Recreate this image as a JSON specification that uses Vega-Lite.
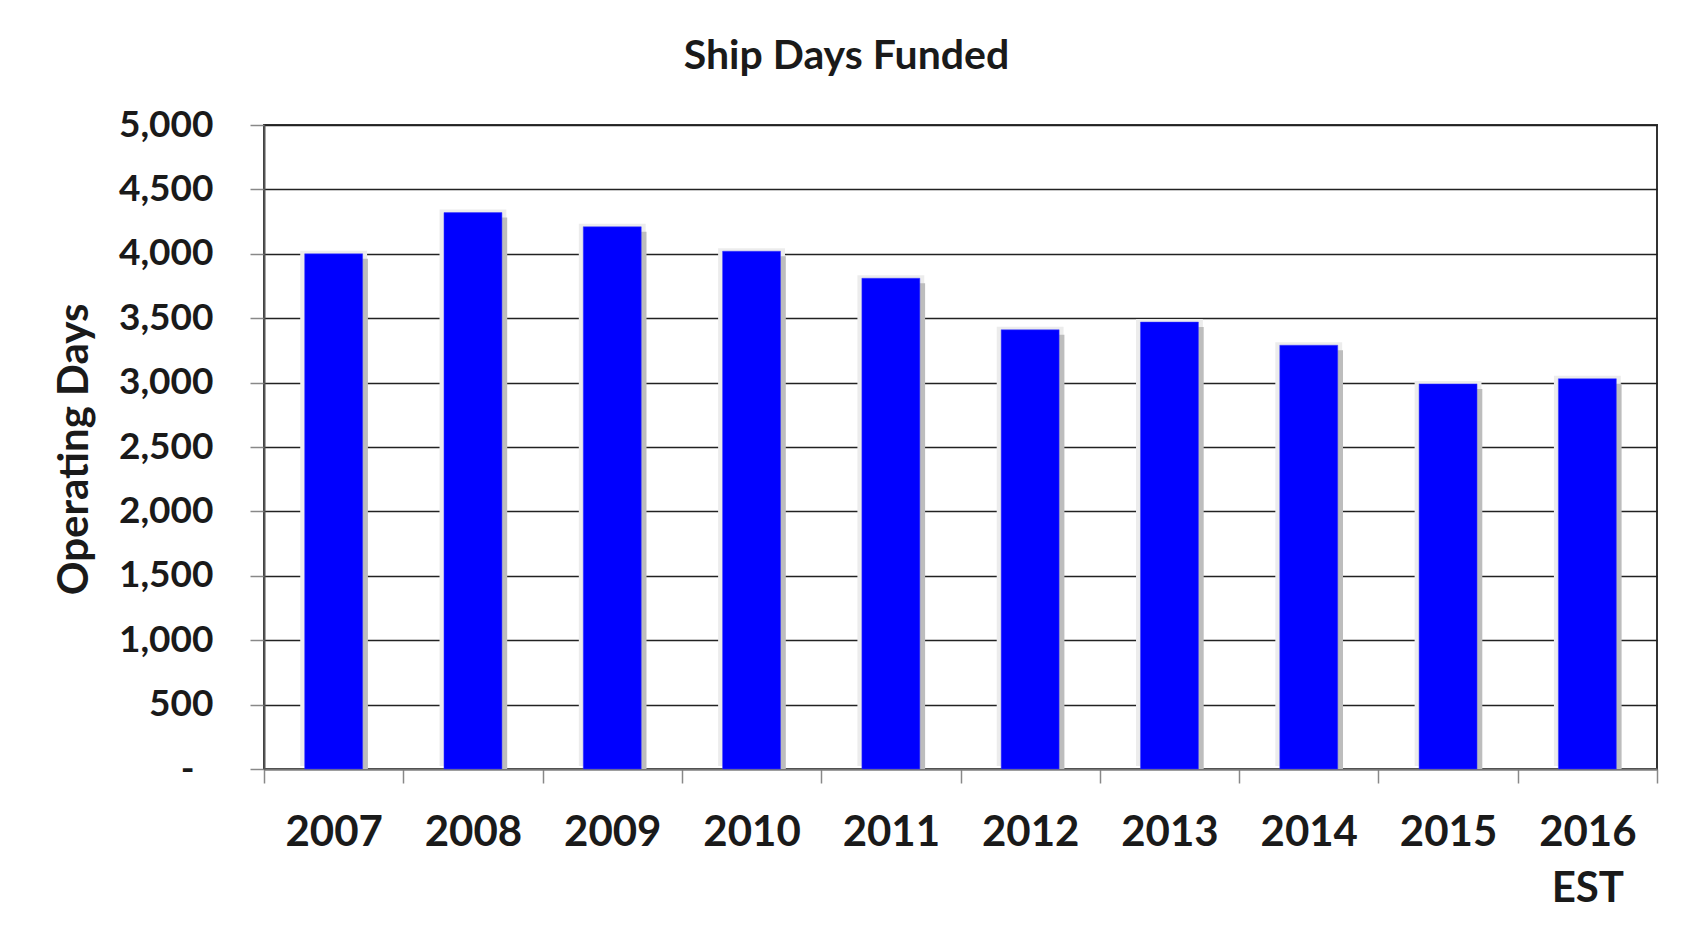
{
  "$schema": "https://vega.github.io/schema/vega-lite/v6.json",
  "width": 1393,
  "height": 644,
  "autosize": {"type": "none"},
  "padding": {"left": 264, "top": 125, "right": 29, "bottom": 161},
  "background": "#ffffff",
  "title": {
    "text": "Ship Days Funded",
    "font": "Lato",
    "fontSize": 41,
    "fontWeight": "bold",
    "color": "#1a1a1a",
    "anchor": "middle",
    "dx": -114,
    "offset": 28
  },
  "config": {
    "view": {"stroke": "#333333", "strokeWidth": 2},
    "font": "Lato"
  },
  "data": {
    "values": [
      {"year": "2007", "days": 4000},
      {"year": "2008", "days": 4320},
      {"year": "2009", "days": 4210},
      {"year": "2010", "days": 4020},
      {"year": "2011", "days": 3810},
      {"year": "2012", "days": 3410},
      {"year": "2013", "days": 3470},
      {"year": "2014", "days": 3290},
      {"year": "2015", "days": 2990},
      {"year": "2016 EST", "days": 3030}
    ]
  },
  "encoding": {
    "x": {
      "field": "year",
      "type": "nominal",
      "sort": null,
      "scale": {"paddingInner": 0, "paddingOuter": 0},
      "axis": {
        "title": null,
        "labelAngle": 0,
        "labelFont": "Lato",
        "labelFontSize": 42,
        "labelFontWeight": "bold",
        "labelColor": "#1a1a1a",
        "labelPadding": 29,
        "labelLineHeight": 56,
        "labelExpr": "split(datum.label, ' ')",
        "tickBand": "extent",
        "tickSize": 14,
        "tickColor": "#888888",
        "tickWidth": 1.5,
        "domainColor": "#777777",
        "domainWidth": 2
      }
    },
    "y": {
      "field": "days",
      "type": "quantitative",
      "scale": {"domain": [0, 5000], "nice": false},
      "axis": {
        "title": "Operating Days",
        "titleFont": "Lato",
        "titleFontSize": 42,
        "titleFontWeight": "bold",
        "titleColor": "#1a1a1a",
        "titleX": -168,
        "titleY": 324,
        "titleBaseline": "bottom",
        "titleAngle": -90,
        "values": [0, 500, 1000, 1500, 2000, 2500, 3000, 3500, 4000, 4500, 5000],
        "labelExpr": "datum.value == 0 ? '-' : format(datum.value, ',')",
        "labelFont": "Lato",
        "labelFontSize": 37,
        "labelFontWeight": "bold",
        "labelColor": "#1a1a1a",
        "labelPadding": {"condition": {"test": "datum.value == 0", "value": 56}, "value": 37},
        "tickSize": 14,
        "tickColor": "#888888",
        "tickWidth": 1.5,
        "grid": true,
        "gridColor": "#222222",
        "gridWidth": 1.6,
        "domainColor": "#555555",
        "domainWidth": 2
      }
    }
  },
  "layer": [
    {"mark": {"type": "bar", "color": "#ececec", "width": {"band": 0.48}, "yOffset": -3, "clip": true}},
    {"mark": {"type": "bar", "color": "#bdbdbd", "width": {"band": 0.42}, "xOffset": 5, "yOffset": 5, "clip": true}},
    {"mark": {"type": "bar", "color": "#0000ff", "width": {"band": 0.416}, "stroke": "#3a3aff", "strokeWidth": 0.5}}
  ]
}
